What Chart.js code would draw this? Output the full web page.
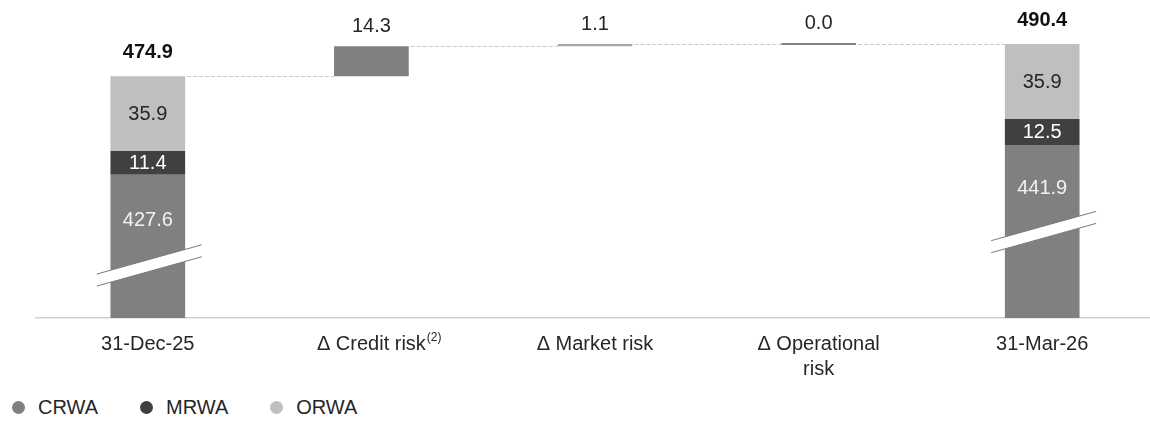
<!DOCTYPE html>
<html>
<head>
<meta charset="utf-8">
<script src="https://cdn.jsdelivr.net/npm/chart.js@4.4.1/dist/chart.umd.min.js"></script>
<style>
	body { margin: 0; width: 1150px; height: 421px; overflow: hidden; background: #fff; font-family: "Liberation Sans", Arial, sans-serif; }
	#wrap { position: absolute; left: 0; top: 0; width: 1156px; height: 396px; }
	#legend { position: absolute; left: 12px; top: 396px; display: flex; font-size: 20px; color: #262626; }
	#legend .item { display: flex; align-items: center; margin-right: 42px; }
	#legend .dot { width: 13px; height: 13px; border-radius: 50%; margin-right: 13px; }
</style>
</head>
<body>
<div id="wrap"><canvas id="myChart"></canvas></div>
<div id="legend"></div>
<script>
var categories = ['31-Dec-25', 'Δ Credit risk', 'Δ Market risk', ['Δ Operational', 'risk'], '31-Mar-26'];
var footnotes = [null, '(2)', null, null, null];
var crwa = [427.6, null, null, null, 441.9];
var mrwa = [11.4, null, null, null, 12.5];
var orwa = [35.9, null, null, null, 35.9];
var deltas = [null, 14.3, 1.1, 0.0, null];
var totals = [474.9, null, null, null, 490.4];

var colors = { CRWA: '#808080', MRWA: '#404040', ORWA: '#bfbfbf' };
var deltaColors = [null, '#808080', '#a6a6a6', '#595959', null];
var FONT = '"Liberation Sans", Arial, sans-serif';

// invisible base under each delta = running total so far
var base = [];
var running = totals[0];
for (var i = 0; i < categories.length; i++) {
	if (deltas[i] === null) { base.push(null); continue; }
	base.push(running);
	running += deltas[i];
}

var waterfallPlugin = {
	id: 'waterfall',
	afterDatasetsDraw: function (chart) {
		var ctx = chart.ctx;
		var y = chart.scales.y;
		var x = chart.scales.x;
		var metaC = chart.getDatasetMeta(0);
		var metaM = chart.getDatasetMeta(1);
		var metaO = chart.getDatasetMeta(2);
		var metaD = chart.getDatasetMeta(4);
		var breakAt = chart.options.plugins.waterfall.breakAt;

		// dashed connectors
		var level = totals[0];
		var bars = [];
		for (var i = 0; i < categories.length; i++) {
			bars.push(deltas[i] === null ? metaC.data[i] : metaD.data[i]);
		}
		ctx.save();
		ctx.strokeStyle = '#c8c8c8';
		ctx.lineWidth = 1;
		ctx.setLineDash([4, 2]);
		for (var i = 0; i < categories.length - 1; i++) {
			if (deltas[i] !== null) level += deltas[i];
			var py = Math.round(y.getPixelForValue(level)) + 0.5;
			ctx.beginPath();
			ctx.moveTo(bars[i].x + bars[i].width / 2 + 2, py);
			ctx.lineTo(bars[i + 1].x - bars[i + 1].width / 2, py);
			ctx.stroke();
		}
		ctx.restore();

		// axis breaks on the stacked bars
		var breakY = [];
		metaC.data.forEach(function (bar, i) {
			if (crwa[i] === null) { breakY.push(null); return; }
			var cy = y.getPixelForValue(breakAt[i]);
			var x0 = bar.x - 51, x1 = bar.x + 54;
			var slope = -0.279, gap = 12;
			var yl = cy - slope * 51 - gap / 2, yr = cy + slope * 54 - gap / 2;
			ctx.save();
			ctx.fillStyle = '#ffffff';
			ctx.beginPath();
			ctx.moveTo(x0, yl);
			ctx.lineTo(x1, yr);
			ctx.lineTo(x1, yr + gap);
			ctx.lineTo(x0, yl + gap);
			ctx.closePath();
			ctx.fill();
			ctx.strokeStyle = '#7a7a7a';
			ctx.lineWidth = 1;
			ctx.beginPath();
			ctx.moveTo(x0, yl); ctx.lineTo(x1, yr);
			ctx.moveTo(x0, yl + gap); ctx.lineTo(x1, yr + gap);
			ctx.stroke();
			ctx.restore();
			breakY.push(cy);
		});

		ctx.save();
		ctx.textAlign = 'center';
		ctx.textBaseline = 'middle';
		ctx.font = '20px ' + FONT;

		// segment labels
		metaC.data.forEach(function (bar, i) {
			if (crwa[i] === null) return;
			ctx.fillStyle = '#f2f2f2';
			ctx.fillText(crwa[i].toFixed(1), bar.x, (bar.y + breakY[i]) / 2);
			var m = metaM.data[i];
			ctx.fillStyle = '#ffffff';
			ctx.fillText(mrwa[i].toFixed(1), m.x, (m.y + m.base) / 2 + 1);
			var o = metaO.data[i];
			ctx.fillStyle = '#262626';
			ctx.fillText(orwa[i].toFixed(1), o.x, (o.y + o.base) / 2 + 1);
			ctx.font = 'bold 20px ' + FONT;
			ctx.fillStyle = '#111111';
			ctx.fillText(totals[i].toFixed(1), o.x, o.y - 24);
			ctx.font = '20px ' + FONT;
		});

		// delta labels
		metaD.data.forEach(function (bar, i) {
			if (deltas[i] === null) return;
			ctx.fillStyle = '#262626';
			ctx.fillText(deltas[i].toFixed(1), bar.x, Math.min(bar.y, bar.base) - 20);
		});

		// footnote superscripts on tick labels
		ctx.textAlign = 'left';
		ctx.textBaseline = 'top';
		footnotes.forEach(function (note, i) {
			if (!note) return;
			ctx.font = '20px ' + FONT;
			var w = ctx.measureText(categories[i]).width;
			ctx.font = '12px ' + FONT;
			ctx.fillStyle = '#262626';
			ctx.fillText(note, x.getPixelForValue(i) + w / 2 + 1, x.top + 14);
		});
		ctx.restore();
	}
};

var ctx = document.getElementById('myChart');
var myChart = new Chart(ctx, {
	type: 'bar',
	data: {
		labels: categories,
		datasets: [
			{ label: 'CRWA', data: crwa, backgroundColor: colors.CRWA },
			{ label: 'MRWA', data: mrwa, backgroundColor: colors.MRWA },
			{ label: 'ORWA', data: orwa, backgroundColor: colors.ORWA },
			{ label: 'base', data: base, backgroundColor: 'rgba(0,0,0,0)' },
			{ label: 'delta', data: deltas, backgroundColor: deltaColors, minBarLength: 1.5 }
		]
	},
	plugins: [waterfallPlugin],
	options: {
		responsive: true,
		maintainAspectRatio: false,
		animation: false,
		devicePixelRatio: 1,
		layout: { padding: { left: 36, right: 2, top: 0, bottom: 0 } },
		datasets: { bar: { barPercentage: 0.334, categoryPercentage: 1 } },
		scales: {
			x: {
				stacked: true,
				grid: { display: false, drawTicks: false },
				border: { display: true, color: '#d0d0d0', width: 1.5 },
				ticks: { padding: 14, color: '#262626', font: { family: FONT, size: 20, lineHeight: 1.25 }, maxRotation: 0, autoSkip: false }
			},
			y: {
				stacked: true,
				display: false,
				min: 359,
				max: 511.4
			}
		},
		plugins: {
			legend: { display: false },
			tooltip: { enabled: false },
			waterfall: { breakAt: [384, null, null, null, 400] }
		}
	}
});

// legend as plain html under the chart
var legend = document.getElementById('legend');
['CRWA', 'MRWA', 'ORWA'].forEach(function (name) {
	var item = document.createElement('div');
	item.className = 'item';
	item.innerHTML = '<span class="dot" style="background:' + colors[name] + '"></span>' + name;
	legend.appendChild(item);
});
</script>
</body>
</html>
